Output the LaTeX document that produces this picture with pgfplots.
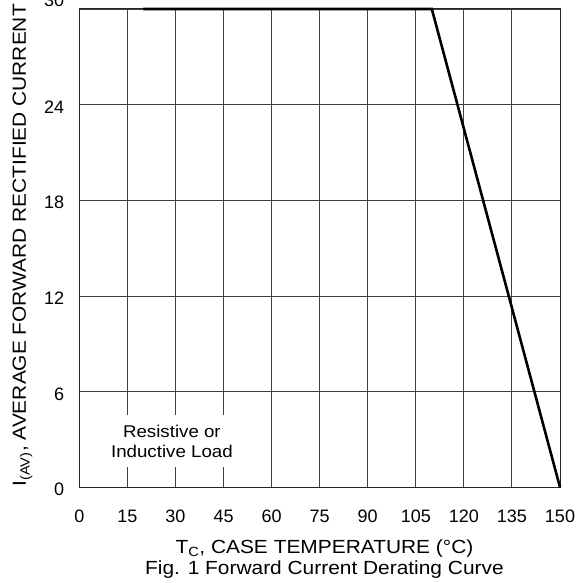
\documentclass[border=0pt]{standalone}
\usepackage{pgfplots}
\pgfplotsset{compat=1.18}
\usepackage{fontspec}
\setmainfont{Liberation Sans}
\newfontfamily\wide[FakeStretch=1.1]{Liberation Sans}
\begin{document}
\begin{tikzpicture}[x=1pt,y=1pt]
\begin{axis}[
  at={(0,0)}, anchor=south west,
  scale only axis, width=480.7pt, height=478.3pt,
  xmin=0, xmax=150, ymin=0, ymax=30,
  xtick={0,15,...,150}, ytick={0,6,...,30},
  yticklabels={0,6,12,18,24,\raisebox{11pt}{30}},
  grid=major,
  major grid style={black!75, line width=0.9pt},
  axis line style={black!85, line width=1pt},
  major tick length=0pt,
  /pgf/number format/assume math mode=true,
  tick label style={font=\fontsize{18}{20}\selectfont},
  xticklabel style={anchor=base, inner ysep=0pt, yshift=-34.7pt},
  yticklabel style={anchor=base east, inner xsep=0pt, xshift=-15pt, yshift=-8.5pt},
  xlabel={T\textsubscript{C}, CASE TEMPERATURE (°C)},
  xlabel style={font=\wide\fontsize{19}{20}\selectfont,
    at={(axis description cs:0.51,-0.138)}, anchor=base},
  ylabel={I\textsubscript{(AV)}, AVERAGE FORWARD RECTIFIED CURRENT},
  ylabel style={font=\wide\fontsize{19}{20}\selectfont,
    at={(axis description cs:-0.118,0.506)}, anchor=center},
  clip=false,
]
\addplot[black, line width=2.6pt] coordinates {(20,30) (110,30) (150,0)};
\node[fill=white, align=center, inner xsep=4pt, inner ysep=10pt,
      font=\wide\fontsize{17}{20}\selectfont]
  at (axis cs:28.9,2.9) {Resistive or\\Inductive Load};
\node[font=\wide\fontsize{19}{20}\selectfont, anchor=base]
  at (axis cs:76.5,-5.5) {Fig. 1 Forward Current Derating Curve};
\end{axis}
\pgfresetboundingbox
\path[use as bounding box] (-79.3,-95.7) rectangle (498.7,487.3);
\end{tikzpicture}
\end{document}
